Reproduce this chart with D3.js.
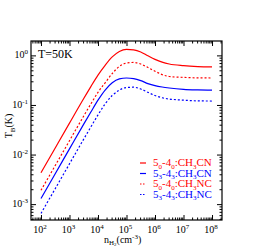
<!DOCTYPE html>
<html>
<head>
<meta charset="utf-8">
<script src="https://cdn.jsdelivr.net/npm/d3@7"></script>
<style>
  body { margin: 0; background: #fff; }
  text { font-family: "Liberation Serif", "DejaVu Serif", serif; }
</style>
</head>
<body>
<svg id="chart" width="274" height="246"></svg>
<script>
// densities n(H2) in cm^-3 (half / quarter decades)
const density = [1e2, 3.16e2, 1e3, 3.16e3, 5.62e3, 1e4, 1.78e4, 3.16e4, 5.62e4,
                 1e5, 1.78e5, 3.16e5, 5.62e5, 1e6, 1.78e6, 3.16e6, 1e7, 3.16e7, 1e8];

// brightness temperatures (K)
const tb50CN = [0.0043, 0.0136, 0.043, 0.135, 0.235, 0.40, 0.63, 0.93, 1.2,
                1.32, 1.29, 1.17, 0.98, 0.83, 0.73, 0.67, 0.62, 0.595, 0.585];
const tb53CN = [0.0013, 0.0041, 0.013, 0.041, 0.072, 0.125, 0.2, 0.28, 0.335,
                0.35, 0.34, 0.31, 0.27, 0.245, 0.23, 0.22, 0.207, 0.202, 0.2];
const tb50NC = [0.0019, 0.006, 0.019, 0.06, 0.105, 0.18, 0.28, 0.43, 0.6,
                0.70, 0.72, 0.67, 0.57, 0.48, 0.41, 0.375, 0.36, 0.352, 0.35];
const tb53NC = [0.00065, 0.00205, 0.0065, 0.0205, 0.036, 0.063, 0.105, 0.155, 0.2,
                0.225, 0.228, 0.21, 0.18, 0.155, 0.14, 0.132, 0.125, 0.121, 0.12];

const xTickExp = [2, 3, 4, 5, 6, 7, 8];
const yTickExp = [0, -1, -2, -3];

// legend: pieces [text, isSubscript]
const series = [
  { values: tb50CN, color: "#ff0000", dash: null,  label: [["5",0],["0",1],["-4",0],["0",1],[":CH",0],["3",1],["CN",0]] },
  { values: tb53CN, color: "#0000ff", dash: null,  label: [["5",0],["3",1],["-4",0],["3",1],[":CH",0],["3",1],["CN",0]] },
  { values: tb50NC, color: "#ff0000", dash: "2,2", label: [["5",0],["0",1],["-4",0],["0",1],[":CH",0],["3",1],["NC",0]] },
  { values: tb53NC, color: "#0000ff", dash: "2,2", label: [["5",0],["3",1],["-4",0],["3",1],[":CH",0],["3",1],["NC",0]] }
];

const pLeft = 31, pRight = 222, pTop = 41, pBottom = 220;
const svg = d3.select("#chart");

const x = d3.scaleLog().domain([Math.pow(10, 1.65), Math.pow(10, 8.35)]).range([pLeft, pRight]);
const y = d3.scaleLog().domain([Math.pow(10, -3.32), Math.pow(10, 0.29)]).range([pBottom, pTop]);

// major and minor tick values
function logTicks(scale) {
  const [a, b] = scale.domain();
  const major = [], minor = [];
  for (let e = Math.floor(Math.log10(a)); e <= Math.ceil(Math.log10(b)); e++) {
    for (let m = 1; m < 10; m++) {
      const v = m * Math.pow(10, e);
      if (v < a || v > b) continue;
      (m === 1 ? major : minor).push(v);
    }
  }
  return { major, minor };
}
const xt = logTicks(x), yt = logTicks(y);

function drawAxis(gen, scale, vals, size, tx, ty) {
  const g = svg.append("g")
    .attr("transform", "translate(" + tx + "," + ty + ")")
    .call(gen(scale).tickValues(vals).tickSize(-size).tickFormat(""));
  g.select(".domain").remove();
  g.selectAll("line").attr("stroke", "#000").attr("stroke-width", 1);
}
[[xt.major, 5], [xt.minor, 2.5]].forEach(([v, s]) => {
  drawAxis(d3.axisBottom, x, v, s, 0, pBottom);
  drawAxis(d3.axisTop, x, v, s, 0, pTop);
});
[[yt.major, 5], [yt.minor, 2.5]].forEach(([v, s]) => {
  drawAxis(d3.axisLeft, y, v, s, pLeft, 0);
  drawAxis(d3.axisRight, y, v, s, pRight, 0);
});

// frame
svg.append("rect")
  .attr("x", pLeft).attr("y", pTop)
  .attr("width", pRight - pLeft).attr("height", pBottom - pTop)
  .attr("fill", "none").attr("stroke", "#000").attr("stroke-width", 1.2);

// curves
const line = d3.line()
  .x((d, i) => x(density[i]))
  .y(d => y(d))
  .curve(d3.curveMonotoneX);

series.forEach(s => {
  svg.append("path")
    .datum(s.values)
    .attr("d", line)
    .attr("fill", "none")
    .attr("stroke", s.color)
    .attr("stroke-width", 1.2)
    .attr("stroke-dasharray", s.dash);
});

// tick labels
xTickExp.forEach(e => {
  const t = svg.append("text")
    .attr("x", x(Math.pow(10, e)) - 1).attr("y", 233)
    .attr("text-anchor", "middle")
    .attr("font-size", 10);
  t.append("tspan").text("10");
  t.append("tspan").attr("dy", -4).attr("font-size", 7).text(e);
});
yTickExp.forEach(e => {
  const t = svg.append("text")
    .attr("x", 28).attr("y", y(Math.pow(10, e)) + 3)
    .attr("text-anchor", "end")
    .attr("font-size", 10);
  t.append("tspan").text("10");
  t.append("tspan").attr("dy", -4).attr("font-size", 7).text(e === 0 ? "0" : "-" + Math.abs(e));
});

// axis titles
const xl = svg.append("text").attr("x", 104).attr("y", 243).attr("font-size", 10);
xl.append("tspan").text("n");
xl.append("tspan").attr("dy", 2).attr("font-size", 7).text("H");
xl.append("tspan").attr("dy", 1).attr("font-size", 5).text("2");
xl.append("tspan").attr("dy", -3).attr("font-size", 10).text("(cm");
xl.append("tspan").attr("dy", -4).attr("font-size", 7).text("-3");
xl.append("tspan").attr("dy", 4).attr("font-size", 10).text(")");

const yl = svg.append("text")
  .attr("transform", "translate(12,126) rotate(-90)")
  .attr("text-anchor", "middle")
  .attr("font-size", 10);
yl.append("tspan").text("T");
yl.append("tspan").attr("dy", 2.5).attr("font-size", 7).text("B");
yl.append("tspan").attr("dy", -2.5).attr("font-size", 10).text("(K)");

svg.append("text")
  .attr("x", 38).attr("y", 58)
  .attr("font-size", 12)
  .text("T=50K");

// legend
series.forEach((s, i) => {
  const ly = 166 + i * 10.5;
  svg.append("line")
    .attr("x1", 140).attr("x2", 146)
    .attr("y1", ly - 3).attr("y2", ly - 3)
    .attr("stroke", s.color).attr("stroke-width", 1.2)
    .attr("stroke-dasharray", s.dash ? "1.5,1.5" : null);
  const t = svg.append("text")
    .attr("x", 153).attr("y", ly)
    .attr("font-size", 11)
    .attr("fill", s.color);
  let sub = 0;
  s.label.forEach(([txt, isSub]) => {
    const dy = isSub && !sub ? 2.5 : (!isSub && sub ? -2.5 : 0);
    t.append("tspan").attr("dy", dy).attr("font-size", isSub ? 7 : 11).text(txt);
    sub = isSub;
  });
});
</script>
</body>
</html>
